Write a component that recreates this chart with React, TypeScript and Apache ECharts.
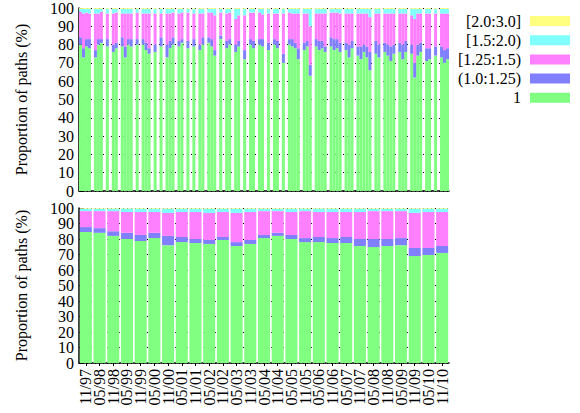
import React, { useEffect, useRef } from 'react';
import * as echarts from 'echarts';

const SERIES_NAMES = ['1', '(1.0:1.25)', '[1.25:1.5)', '[1.5:2.0)', '[2.0:3.0]'];
const COLORS = ['#80ff80', '#8080ff', '#ff80ff', '#80ffff', '#ffff80'];
const LEGEND_ORDER = ['[2.0:3.0]', '[1.5:2.0)', '[1.25:1.5)', '(1.0:1.25)', '1'];
const FONT = 'Liberation Serif';
const Y_TICKS = [0, 10, 20, 30, 40, 50, 60, 70, 80, 90, 100];

// Bottom panel: half-yearly snapshots
const bottomCategories = [
  '11/97', '05/98', '11/98', '05/99', '11/99', '05/00', '11/00', '05/01', '11/01',
  '05/02', '11/02', '05/03', '11/03', '05/04', '11/04', '05/05', '11/05', '05/06',
  '11/06', '05/07', '11/07', '05/08', '11/08', '05/09', '11/09', '05/10', '11/10',
];
const bottomGreen = [84.5, 84, 82, 80, 78.7, 80.6, 76, 78, 77.4, 76.8, 79.4, 75.5, 76.8, 80.6, 82, 80, 78, 78, 77.4, 77.4, 75.5, 74.8, 75.5, 76, 69, 69.7, 71];
const bottomBlue = [3.2, 3, 3, 4, 3.9, 3.4, 6, 3.3, 2.6, 2.6, 1.9, 2.5, 2.6, 2, 2, 2.6, 2.6, 3.3, 3.2, 3.9, 4.5, 5.2, 4.5, 4.6, 5.2, 4.5, 4.5];
const bottomPink = [10.3, 11, 13, 13.4, 14.8, 13.4, 14.8, 16.1, 17.4, 17.4, 16.1, 18.8, 18, 15.4, 14, 14.8, 17.4, 16.1, 16.8, 16.1, 17.4, 18, 18, 17.4, 22.6, 23.2, 21.9];
const bottomCyan = [1.6, 1.6, 1.6, 2.2, 2.2, 2.2, 2.8, 2.2, 2.2, 2.8, 2.2, 2.8, 2.2, 1.6, 1.6, 2.2, 1.6, 2.2, 2.2, 2.2, 2.2, 1.6, 1.6, 1.6, 2.8, 2.2, 2.2];
const bottomYellow = [0.4, 0.4, 0.4, 0.4, 0.4, 0.4, 0.4, 0.4, 0.4, 0.4, 0.4, 0.4, 0.4, 0.4, 0.4, 0.4, 0.4, 0.4, 0.4, 0.4, 0.4, 0.4, 0.4, 0.4, 0.4, 0.4, 0.4];

// Top panel: fine-grained samples (null = missing sample)
const n = null;
const topGreen = [
  80, 73, 79, 78, n, 73, 80, 81, n, 79, n, 76, 78, n, 79, 73, 80, 79, n, 80,
  n, 80, 77, 75, n, 76, n, 79, n, 73, 78, 80, n, 79, 81, n, 78, n, 79, n,
  77, 80, n, 81, 79, 74, n, 83, n, 78, 80, n, 76, 79, n, 72, n, 80, 78, n,
  80, 79, n, 77, n, 80, 78, n, 70, n, 80, 79, 78, 72, n, 77, 79, 63, n, 79,
  77, 78, 76, n, 79, 77, 78, 76, n, 77, 73, 78, n, 74, 72, 76, 73, 66, n, 75,
  73, n, 76, 74, 71, 75, n, 76, 72, 76, n, 75, 62, 74, 76, n, 71, 72, n, 74,
  n, 73, 70, 72,
];
const topBlue = [
  4, 5, 4, 5, n, 4, 3, 2, n, 4, n, 4, 3, n, 5, 6, 3, 4, n, 3,
  n, 3, 4, 3, n, 4, n, 5, n, 7, 4, 4, n, 3, 2, n, 4, n, 4, n,
  3, 4, n, 3, 4, 3, n, 2, n, 4, 3, n, 4, 3, n, 5, n, 3, 4, n,
  3, 4, n, 4, n, 3, 4, n, 5, n, 3, 4, 3, 6, n, 4, 3, 6, n, 4,
  5, 4, 3, n, 5, 6, 5, 5, n, 4, 7, 4, n, 5, 7, 4, 6, 10, n, 7,
  7, n, 5, 6, 8, 5, n, 5, 8, 6, n, 5, 8, 6, 5, n, 7, 6, n, 5,
  n, 6, 7, 6,
];
const topPink = [
  14, 19, 14.5, 14, n, 20, 14, 15, n, 14, n, 17, 16.5, n, 13, 18, 14, 14, n, 14.5,
  n, 14, 16, 19, n, 17, n, 13, n, 17, 15, 13.5, n, 15, 14.5, n, 15.5, n, 14, n,
  17, 13, n, 13.5, 14.5, 19, n, 12.5, n, 15, 14.5, n, 14, 14, n, 19, n, 14.5, 15.5, n,
  14.5, 13.5, n, 16, n, 14, 15, n, 22, n, 14.5, 14, 16, 19, n, 16, 15, 21, n, 14,
  15, 15, 18, n, 13.5, 14.5, 14.5, 16, n, 16, 17, 15, n, 18, 18, 17, 18, 19, n, 15,
  17, n, 16, 17, 18, 17, n, 16, 17, 15, n, 16, 24, 17, 16, n, 19, 19, n, 18,
  n, 18, 20, 19,
];
const topCyan = [
  1.5, 2.5, 2, 2.5, n, 2.5, 2.5, 1.5, n, 2.5, n, 2.5, 2, n, 2.5, 2.5, 2.5, 2.5, n, 2,
  n, 2.5, 2.5, 2.5, n, 2.5, n, 2.5, n, 2.5, 2.5, 2, n, 2.5, 2, n, 2, n, 2.5, n,
  2.5, 2.5, n, 2, 2, 3.5, n, 2, n, 2.5, 2, n, 5.5, 3.5, n, 3.5, n, 2, 2, n,
  2, 3, n, 2.5, n, 2.5, 2.5, n, 2.5, n, 2, 2.5, 2.5, 2.5, n, 2.5, 2.5, 9.5, n, 2.5,
  2.5, 2.5, 2.5, n, 2, 2, 2, 2.5, n, 2.5, 2.5, 2.5, n, 2.5, 2.5, 2.5, 2.5, 4.5, n, 2.5,
  2.5, n, 2.5, 2.5, 2.5, 2.5, n, 2.5, 2.5, 2.5, n, 3.5, 5.5, 2.5, 2.5, n, 2.5, 2.5, n, 2.5,
  n, 2.5, 2.5, 2.5,
];
const topYellow = [
  0.5, 0.5, 0.5, 0.5, n, 0.5, 0.5, 0.5, n, 0.5, n, 0.5, 0.5, n, 0.5, 0.5, 0.5, 0.5, n, 0.5,
  n, 0.5, 0.5, 0.5, n, 0.5, n, 0.5, n, 0.5, 0.5, 0.5, n, 0.5, 0.5, n, 0.5, n, 0.5, n,
  0.5, 0.5, n, 0.5, 0.5, 0.5, n, 0.5, n, 0.5, 0.5, n, 0.5, 0.5, n, 0.5, n, 0.5, 0.5, n,
  0.5, 0.5, n, 0.5, n, 0.5, 0.5, n, 0.5, n, 0.5, 0.5, 0.5, 0.5, n, 0.5, 0.5, 0.5, n, 0.5,
  0.5, 0.5, 0.5, n, 0.5, 0.5, 0.5, 0.5, n, 0.5, 0.5, 0.5, n, 0.5, 0.5, 0.5, 0.5, 0.5, n, 0.5,
  0.5, n, 0.5, 0.5, 0.5, 0.5, n, 0.5, 0.5, 0.5, n, 0.5, 0.5, 0.5, 0.5, n, 0.5, 0.5, n, 0.5,
  n, 0.5, 0.5, 0.5,
];
const topCategories = topGreen.map((_, i) => String(i));

const Y_TITLE = 'Proportion of paths (%)';

export default function App() {
  const ref = useRef<HTMLDivElement>(null);
  useEffect(() => {
    if (!ref.current) return;
    const chart = echarts.init(ref.current, undefined, { renderer: 'svg' });
    const topData = [topGreen, topBlue, topPink, topCyan, topYellow];
    const bottomData = [bottomGreen, bottomBlue, bottomPink, bottomCyan, bottomYellow];
    const yAxisCommon = (gridIndex: number, showLabels: boolean) => ({
      type: 'value',
      gridIndex,
      min: 0,
      max: 100,
      interval: 10,
      name: Y_TITLE,
      nameLocation: 'middle',
      nameGap: 50,
      nameTextStyle: { fontFamily: FONT, fontSize: 16, color: '#000' },
      axisLine: { show: true, lineStyle: { color: '#000', width: 1.5 } },
      axisTick: { show: true, inside: true, length: 4, lineStyle: { color: '#000' } },
      axisLabel: {
        show: showLabels,
        fontFamily: FONT, fontSize: 16, color: '#000', margin: 5,
        showMinLabel: true, showMaxLabel: true,
      },
      splitLine: { show: true, lineStyle: { color: '#000', type: [1, 3], width: 1 } },
    });
    const series: any[] = [];
    SERIES_NAMES.forEach((name, k) => {
      series.push({
        type: 'bar',
        name,
        xAxisIndex: 0,
        yAxisIndex: 0,
        stack: 'top',
        data: topData[k],
        barCategoryGap: '0%',
        itemStyle: { color: COLORS[k] },
        emphasis: { disabled: true },
      });
    });
    SERIES_NAMES.forEach((name, k) => {
      series.push({
        type: 'bar',
        name,
        xAxisIndex: 1,
        yAxisIndex: 1,
        stack: 'bottom',
        data: bottomData[k],
        barCategoryGap: '12%',
        itemStyle: { color: COLORS[k] },
        emphasis: { disabled: true },
      });
    });
    chart.setOption({
      animation: false,
      backgroundColor: '#fff',
      textStyle: { fontFamily: FONT },
      grid: [
        { left: 79, top: 8, width: 370, height: 183, containLabel: false },
        { left: 79, top: 208, width: 370, height: 155, containLabel: false },
      ],
      legend: {
        data: LEGEND_ORDER,
        orient: 'vertical',
        align: 'right',
        right: 10,
        top: 13,
        padding: 0,
        itemWidth: 40,
        itemHeight: 10,
        itemGap: 3.2,
        icon: 'rect',
        textStyle: { fontFamily: FONT, fontSize: 16, color: '#000', lineHeight: 16, padding: [0, 4, 0, 0] },
      },
      xAxis: [
        {
          type: 'category',
          gridIndex: 0,
          data: topCategories,
          axisLine: { show: true, lineStyle: { color: '#000', width: 1.5 } },
          axisTick: { show: false },
          axisLabel: { show: false },
          splitLine: { show: false },
        },
        {
          type: 'category',
          gridIndex: 1,
          data: bottomCategories,
          axisLine: { show: true, lineStyle: { color: '#000', width: 1.5 } },
          axisTick: { show: true, alignWithLabel: true, length: 3, lineStyle: { color: '#000' } },
          axisLabel: { fontFamily: FONT, fontSize: 16, lineHeight: 12, color: '#000', rotate: 90, margin: 6, interval: 0 },
          splitLine: { show: false },
        },
      ],
      yAxis: [yAxisCommon(0, true), yAxisCommon(1, false)],
      series,
    });
    // Bottom panel tick labels placed through the bottom y axis scale
    const axisX = chart.convertToPixel({ xAxisIndex: 1 }, bottomCategories[0]) as number;
    const slot = (chart.convertToPixel({ xAxisIndex: 1 }, bottomCategories[1]) as number) - axisX;
    const leftEdge = axisX - slot / 2;
    chart.setOption({
      graphic: Y_TICKS.map((v) => ({
        type: 'text',
        x: leftEdge - 5,
        y: chart.convertToPixel({ yAxisIndex: 1 }, v) as number,
        silent: true,
        style: {
          text: String(v),
          fontFamily: FONT,
          fontSize: 16,
          fill: '#000',
          align: 'right',
          verticalAlign: 'middle',
        },
      })),
    });
    return () => chart.dispose();
  }, []);
  return <div ref={ref} style={{ position: 'fixed', left: 0, top: 0, width: 580, height: 413 }} />;
}
